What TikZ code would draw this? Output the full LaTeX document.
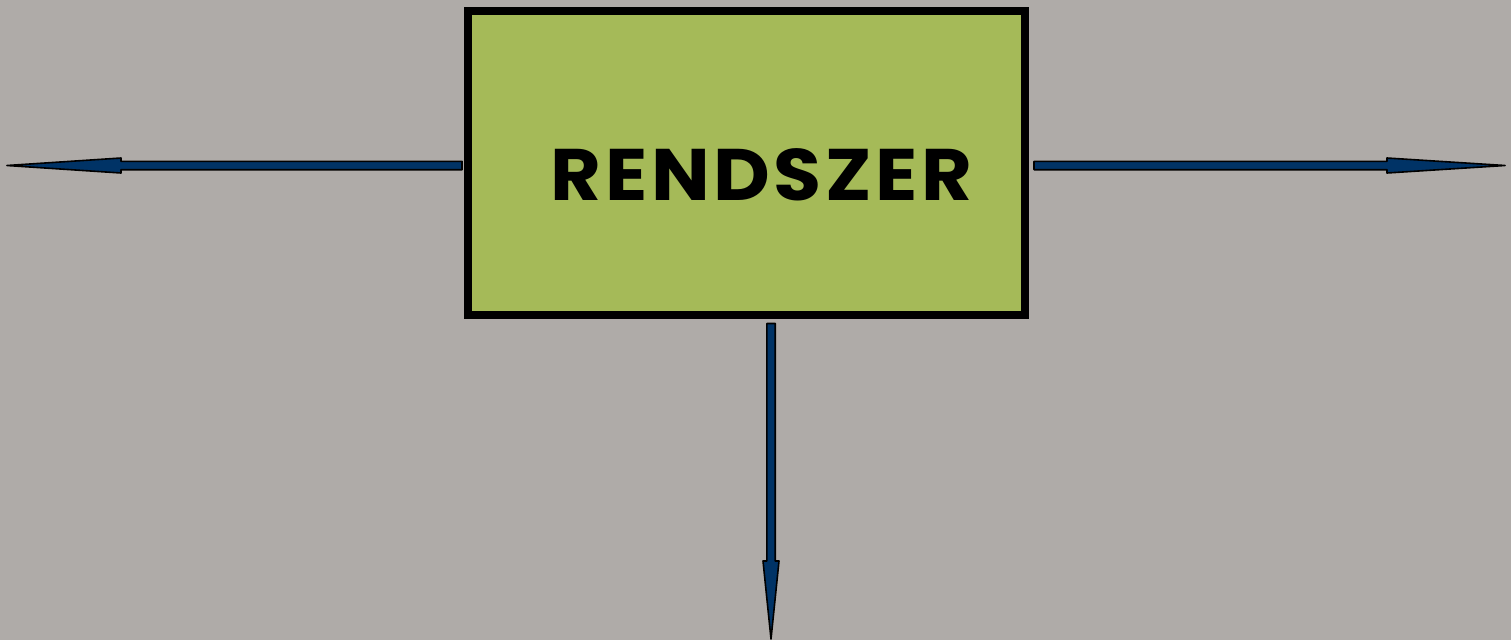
\documentclass[tikz,border=0pt]{standalone}
\usepackage{fontspec}
\setmainfont{Poppins}
\usetikzlibrary{calc}
\definecolor{bgc}{RGB}{175,171,168}
\definecolor{boxgreen}{RGB}{165,186,88}
\definecolor{arrblue}{RGB}{0,51,102}
\newfontfamily\labelfont[LetterSpace=4.5]{Poppins}
\tikzset{
  sysbox/.style={draw=black, fill=boxgreen, line width=8pt, rectangle,
    minimum width=557pt, minimum height=304.5pt, inner sep=0pt},
  arrowshape/.style={draw=black, fill=arrblue, line width=1.6pt, line join=round},
  boxlabel/.style={font=\labelfont\fontsize{73}{80}\selectfont\bfseries, anchor=base, inner sep=0pt}
}
\begin{document}
\begin{tikzpicture}[x=1pt,y=-1pt]
\fill[bgc] (0,0) rectangle (1511,640);
\useasboundingbox (0,0) rectangle (1511,640);
\node[sysbox] (box) at (746.5,162.75) {};
\node[boxlabel] (lbl) at (761.5,200) {\scalebox{1.07}[1]{RENDSZER}};
% coordinates
\coordinate (Ls) at ($(box.west)+(-2,2.75)$);
\coordinate (Lt) at (7,165.5);
\coordinate (Rs) at ($(box.east)+(5,2.75)$);
\coordinate (Rt) at (1505,165.5);
\coordinate (Bs) at ($(box.south)+(24.5,4.5)$);
\coordinate (Bt) at (771,639);
% left arrow
\filldraw[arrowshape] (Lt) -- ($(Lt)+(114,-7.5)$) -- ($(Lt)+(114,-4.2)$) -- ($(Ls)+(0,-4.2)$)
  -- ($(Ls)+(0,4.2)$) -- ($(Lt)+(114,4.2)$) -- ($(Lt)+(114,7.5)$) -- cycle;
% right arrow
\filldraw[arrowshape] (Rt) -- ($(Rt)+(-118,-7.5)$) -- ($(Rt)+(-118,-4.2)$) -- ($(Rs)+(0,-4.2)$)
  -- ($(Rs)+(0,4.2)$) -- ($(Rt)+(-118,4.2)$) -- ($(Rt)+(-118,7.5)$) -- cycle;
% bottom arrow
\filldraw[arrowshape] (Bt) -- ($(Bt)+(-8,-78)$) -- ($(Bt)+(-4.2,-78)$) -- ($(Bs)+(-4.2,0)$)
  -- ($(Bs)+(4.2,0)$) -- ($(Bt)+(4.2,-78)$) -- ($(Bt)+(8,-78)$) -- cycle;
\end{tikzpicture}
\end{document}
